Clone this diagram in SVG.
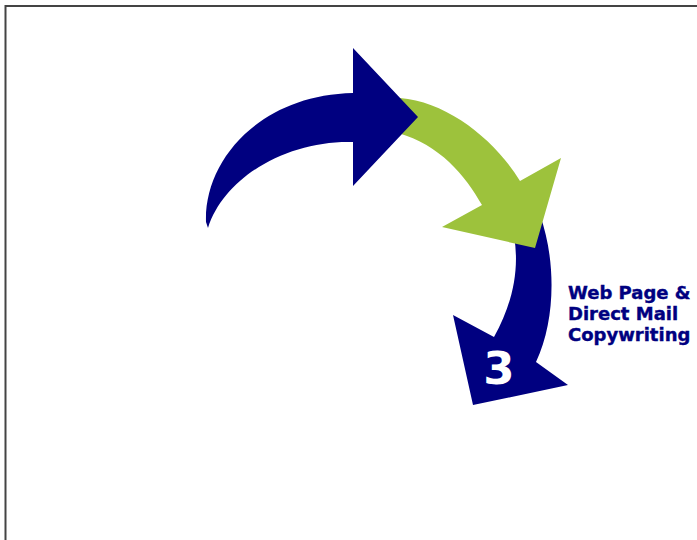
<svg xmlns="http://www.w3.org/2000/svg" width="697" height="540" viewBox="0 0 697 540">
<style>
.navy{fill:#000080}
.green{fill:#9DC23C}
.lbl{font-family:"DejaVu Sans",Verdana,sans-serif;font-weight:bold;font-size:18px;fill:#000080;stroke:#000080;stroke-width:0.4}
.num{font-family:"DejaVu Sans",Verdana,sans-serif;font-weight:bold;font-size:45px;fill:#ffffff;text-anchor:middle}
</style>
<rect x="0" y="0" width="697" height="540" fill="#ffffff"/>
<g id="frame">
<path d="M5.5,540 V6 H697" fill="none" stroke="#444444" stroke-width="2"/>
</g>
<g id="arrow-step3">
<path class="navy" d="M540,215 C556,260 556,320 536,362 L568,385 L473,405 L453,315 L494,337 C512,305 520,270 514,236 Z"/>
<text class="num" x="499" y="384">3</text>
</g>
<g id="arrow-green">
<path class="green" d="M400,98 C448,102 495,140 520,181 L561,158 L535,248 L442,227 L482,205 C465,175 440,145 398,133 Z"/>
</g>
<g id="arrow-blue">
<path class="navy" d="M206,222 C204,160 260,95 353,93 L353,48 L418,117 L353,186 L353,142 C290,140 225,175 208,228 Z"/>
</g>
<g id="label">
<text class="lbl" x="568" y="299">Web Page &amp;</text>
<text class="lbl" x="568" y="320">Direct Mail</text>
<text class="lbl" x="568" y="341">Copywriting</text>
</g>
</svg>
